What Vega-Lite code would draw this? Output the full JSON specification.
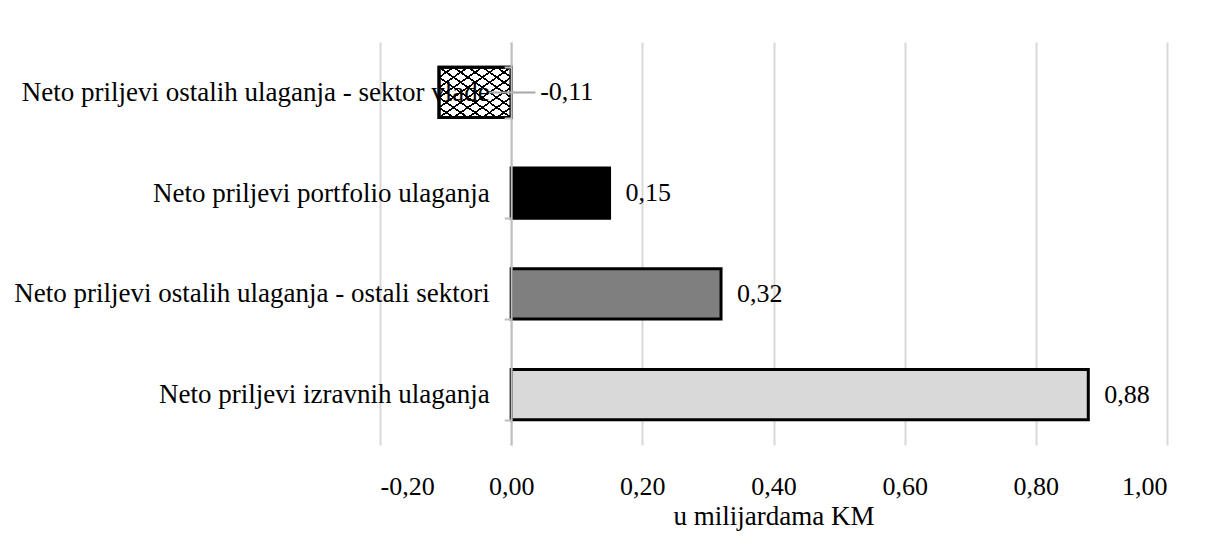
{
  "$schema": "https://vega.github.io/schema/vega-lite/v6.json",
  "width": 787,
  "height": 403,
  "autosize": "none",
  "padding": {"left": 380, "top": 42, "right": 50, "bottom": 113},
  "background": "white",
  "config": {
    "font": "Liberation Serif",
    "view": {"stroke": null},
    "locale": {"number": {"decimal": ",", "thousands": ".", "grouping": [3], "currency": ["", " KM"], "minus": "-"}}
  },
  "data": {
    "values": [
      {"kategorija": "Neto priljevi ostalih ulaganja - sektor vlade", "vrijednost": -0.11, "oznaka": "-0,11", "vrsta": "vlada"},
      {"kategorija": "Neto priljevi portfolio ulaganja", "vrijednost": 0.15, "oznaka": "0,15", "vrsta": "portfolio"},
      {"kategorija": "Neto priljevi ostalih ulaganja - ostali sektori", "vrijednost": 0.32, "oznaka": "0,32", "vrsta": "ostali"},
      {"kategorija": "Neto priljevi izravnih ulaganja", "vrijednost": 0.88, "oznaka": "0,88", "vrsta": "izravna"}
    ]
  },
  "encoding": {
    "y": {
      "field": "kategorija", "type": "nominal", "sort": null,
      "scale": {
        "domain": ["Neto priljevi ostalih ulaganja - sektor vlade", "Neto priljevi portfolio ulaganja", "Neto priljevi ostalih ulaganja - ostali sektori", "Neto priljevi izravnih ulaganja"],
        "paddingInner": 0.5, "paddingOuter": 0.25
      },
      "axis": {
        "title": null, "offset": -131.17, "zindex": 1,
        "labelFontSize": 27, "labelColor": "black", "labelPadding": 15, "labelLimit": 600,
        "domainColor": "#bfbfbf", "domainWidth": 2, "tickColor": "#bfbfbf", "tickWidth": 2, "tickSize": 7,
        "tickBand": "extent", "grid": false
      }
    }
  },
  "layer": [
    {
      "transform": [{"filter": "datum.vrsta !== 'vlada'"}],
      "mark": {"type": "bar", "stroke": "black", "strokeWidth": 3},
      "encoding": {
        "x": {
          "field": "vrijednost", "type": "quantitative",
          "scale": {"domain": [-0.2, 1.0], "nice": false, "zero": false},
          "axis": {
            "title": "u milijardama KM", "titleFontSize": 27, "titleFontWeight": "normal", "titleColor": "black", "titlePadding": 4,
            "values": [-0.2, 0, 0.2, 0.4, 0.6, 0.8, 1.0], "format": ".2f",
            "labelFontSize": 26, "labelColor": "black", "labelPadding": 28, "ticks": false, "tickSize": 0,
            "domain": false, "grid": true, "gridColor": "#d9d9d9", "gridWidth": 2
          }
        },
        "x2": {"datum": 0},
        "fill": {
          "field": "vrsta", "type": "nominal", "legend": null,
          "scale": {"domain": ["portfolio", "ostali", "izravna"], "range": ["#000000", "#7f7f7f", "#d9d9d9"]}
        }
      }
    },
    {
      "transform": [{"filter": "datum.vrsta === 'vlada'"}],
      "mark": {
        "type": "bar", "stroke": "black", "strokeWidth": 3,
        "fill": {"gradient": "linear", "x1": 0, "y1": 0, "x2": 1, "y2": 1, "stops": [
          {"offset": 0, "color": "black"}, {"offset": 0.01, "color": "black"}, {"offset": 0.01, "color": "white"},
          {"offset": 0.09, "color": "white"}, {"offset": 0.09, "color": "black"}, {"offset": 0.11, "color": "black"}, {"offset": 0.11, "color": "white"},
          {"offset": 0.19, "color": "white"}, {"offset": 0.19, "color": "black"}, {"offset": 0.21, "color": "black"}, {"offset": 0.21, "color": "white"},
          {"offset": 0.29, "color": "white"}, {"offset": 0.29, "color": "black"}, {"offset": 0.31, "color": "black"}, {"offset": 0.31, "color": "white"},
          {"offset": 0.39, "color": "white"}, {"offset": 0.39, "color": "black"}, {"offset": 0.41, "color": "black"}, {"offset": 0.41, "color": "white"},
          {"offset": 0.49, "color": "white"}, {"offset": 0.49, "color": "black"}, {"offset": 0.51, "color": "black"}, {"offset": 0.51, "color": "white"},
          {"offset": 0.59, "color": "white"}, {"offset": 0.59, "color": "black"}, {"offset": 0.61, "color": "black"}, {"offset": 0.61, "color": "white"},
          {"offset": 0.69, "color": "white"}, {"offset": 0.69, "color": "black"}, {"offset": 0.71, "color": "black"}, {"offset": 0.71, "color": "white"},
          {"offset": 0.79, "color": "white"}, {"offset": 0.79, "color": "black"}, {"offset": 0.81, "color": "black"}, {"offset": 0.81, "color": "white"},
          {"offset": 0.89, "color": "white"}, {"offset": 0.89, "color": "black"}, {"offset": 0.91, "color": "black"}, {"offset": 0.91, "color": "white"},
          {"offset": 0.99, "color": "white"}, {"offset": 0.99, "color": "black"}, {"offset": 1, "color": "black"}
        ]}
      },
      "encoding": {
        "x": {"field": "vrijednost", "type": "quantitative"},
        "x2": {"datum": 0}
      }
    },
    {
      "transform": [{"filter": "datum.vrsta === 'vlada'"}],
      "mark": {
        "type": "bar", "stroke": "black", "strokeWidth": 3,
        "fill": {"gradient": "linear", "x1": 1, "y1": 0, "x2": 0, "y2": 1, "stops": [
          {"offset": 0, "color": "black"}, {"offset": 0.01, "color": "black"}, {"offset": 0.01, "color": "rgba(255,255,255,0)"},
          {"offset": 0.09, "color": "rgba(255,255,255,0)"}, {"offset": 0.09, "color": "black"}, {"offset": 0.11, "color": "black"}, {"offset": 0.11, "color": "rgba(255,255,255,0)"},
          {"offset": 0.19, "color": "rgba(255,255,255,0)"}, {"offset": 0.19, "color": "black"}, {"offset": 0.21, "color": "black"}, {"offset": 0.21, "color": "rgba(255,255,255,0)"},
          {"offset": 0.29, "color": "rgba(255,255,255,0)"}, {"offset": 0.29, "color": "black"}, {"offset": 0.31, "color": "black"}, {"offset": 0.31, "color": "rgba(255,255,255,0)"},
          {"offset": 0.39, "color": "rgba(255,255,255,0)"}, {"offset": 0.39, "color": "black"}, {"offset": 0.41, "color": "black"}, {"offset": 0.41, "color": "rgba(255,255,255,0)"},
          {"offset": 0.49, "color": "rgba(255,255,255,0)"}, {"offset": 0.49, "color": "black"}, {"offset": 0.51, "color": "black"}, {"offset": 0.51, "color": "rgba(255,255,255,0)"},
          {"offset": 0.59, "color": "rgba(255,255,255,0)"}, {"offset": 0.59, "color": "black"}, {"offset": 0.61, "color": "black"}, {"offset": 0.61, "color": "rgba(255,255,255,0)"},
          {"offset": 0.69, "color": "rgba(255,255,255,0)"}, {"offset": 0.69, "color": "black"}, {"offset": 0.71, "color": "black"}, {"offset": 0.71, "color": "rgba(255,255,255,0)"},
          {"offset": 0.79, "color": "rgba(255,255,255,0)"}, {"offset": 0.79, "color": "black"}, {"offset": 0.81, "color": "black"}, {"offset": 0.81, "color": "rgba(255,255,255,0)"},
          {"offset": 0.89, "color": "rgba(255,255,255,0)"}, {"offset": 0.89, "color": "black"}, {"offset": 0.91, "color": "black"}, {"offset": 0.91, "color": "rgba(255,255,255,0)"},
          {"offset": 0.99, "color": "rgba(255,255,255,0)"}, {"offset": 0.99, "color": "black"}, {"offset": 1, "color": "black"}
        ]}
      },
      "encoding": {
        "x": {"field": "vrijednost", "type": "quantitative"},
        "x2": {"datum": 0}
      }
    },
    {
      "transform": [{"filter": "datum.vrsta === 'vlada'"}],
      "mark": {"type": "rule", "color": "#a6a6a6", "strokeWidth": 2},
      "encoding": {
        "x": {"datum": -0.037},
        "x2": {"datum": 0.037}
      }
    },
    {
      "transform": [{"filter": "datum.vrijednost >= 0"}],
      "mark": {"type": "text", "align": "left", "baseline": "middle", "dx": 16, "fontSize": 26, "color": "black"},
      "encoding": {
        "x": {"field": "vrijednost", "type": "quantitative"},
        "text": {"field": "oznaka"}
      }
    },
    {
      "transform": [{"filter": "datum.vrijednost < 0"}],
      "mark": {"type": "text", "align": "left", "baseline": "middle", "dx": 29, "fontSize": 26, "color": "black"},
      "encoding": {
        "x": {"datum": 0},
        "text": {"field": "oznaka"}
      }
    }
  ]
}
